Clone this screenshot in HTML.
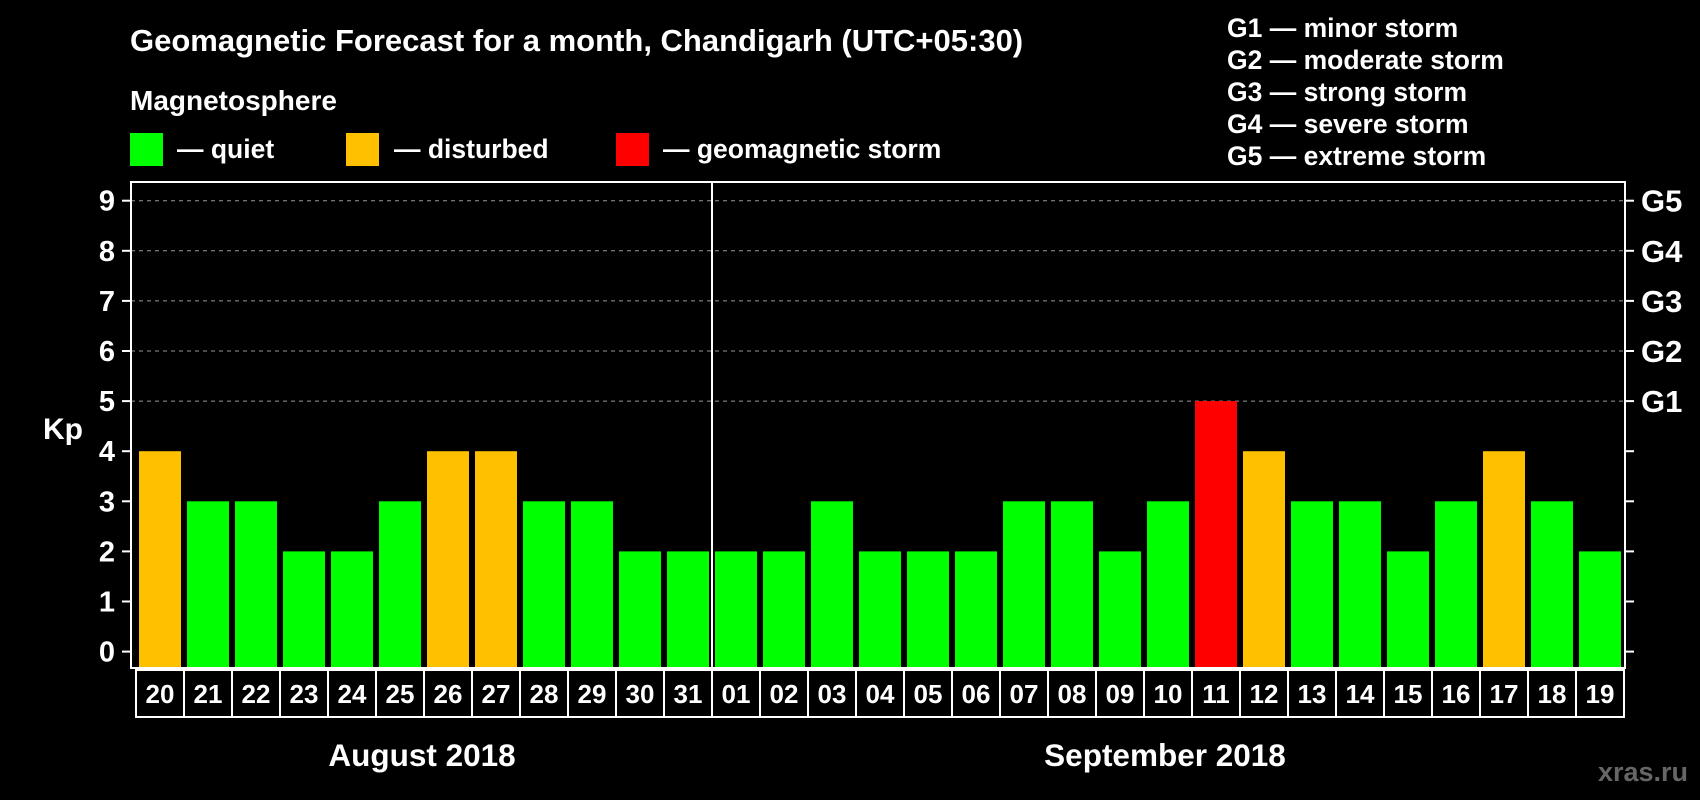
<!DOCTYPE html>
<html><head><meta charset="utf-8"><style>
body{margin:0;background:#000;width:1700px;height:800px;overflow:hidden}
svg{display:block;font-family:"Liberation Sans",Arial,sans-serif;font-weight:bold}
</style></head><body>
<svg id="chart" width="1700" height="800">
<text x="130" y="51" fill="#fff" font-size="31">Geomagnetic Forecast for a month, Chandigarh (UTC+05:30)</text>
<text x="130" y="110" fill="#fff" font-size="28">Magnetosphere</text>
<g><rect x="130" y="133" width="33" height="33" fill="#00ff00"/><text x="177" y="158" fill="#fff" font-size="26.5">— quiet</text></g>
<g><rect x="346" y="133" width="33" height="33" fill="#ffc000"/><text x="394" y="158" fill="#fff" font-size="26.5">— disturbed</text></g>
<g><rect x="616" y="133" width="33" height="33" fill="#ff0000"/><text x="663" y="158" fill="#fff" font-size="26.5">— geomagnetic storm</text></g>
<g fill="#fff" font-size="26.5">
<text x="1227" y="37">G1 — minor storm</text>
<text x="1227" y="69">G2 — moderate storm</text>
<text x="1227" y="101">G3 — strong storm</text>
<text x="1227" y="133">G4 — severe storm</text>
<text x="1227" y="165">G5 — extreme storm</text>
</g>
<text x="63" y="439" fill="#fff" font-size="30" text-anchor="middle">Kp</text>
<text x="422" y="766" fill="#fff" font-size="31.5" text-anchor="middle">August 2018</text>
<text x="1165" y="766" fill="#fff" font-size="31.5" text-anchor="middle">September 2018</text>
<text x="1643" y="781" fill="#666" font-size="27" text-anchor="middle">xras.ru</text>
<g id="plot"></g>
</svg>
<script>
const days=["20","21","22","23","24","25","26","27","28","29","30","31","01","02","03","04","05","06","07","08","09","10","11","12","13","14","15","16","17","18","19"];
const kpValues=[4,3,3,2,2,3,4,4,3,3,2,2,2,2,3,2,2,2,3,3,2,3,5,4,3,3,2,3,4,3,2];
const yTicks=[0,1,2,3,4,5,6,7,8,9];
const gLabels=["G1","G2","G3","G4","G5"];
const NS="http://www.w3.org/2000/svg";
const g=document.getElementById('plot');
const L=131,R=1625,T=182,B=668;
const y=v=>651.6-v*50.1;
const x=i=>139+i*48;
function mk(t,a){const e=document.createElementNS(NS,t);for(const k in a)e.setAttribute(k,a[k]);g.appendChild(e);return e;}
yTicks.forEach(v=>{
  if(v>=5){const l=mk('line',{x1:L,x2:R,y1:y(v),y2:y(v),stroke:'#999','stroke-dasharray':'4,4','stroke-width':1});
  
  }
  mk('line',{x1:122,x2:L,y1:y(v),y2:y(v),stroke:'#fff','stroke-width':2});
  mk('line',{x1:R,x2:R+9,y1:y(v),y2:y(v),stroke:'#fff','stroke-width':2});
  const t=mk('text',{x:107,y:y(v)+10,fill:'#fff','font-size':29,'text-anchor':'middle'});t.textContent=v;
  
  
});
gLabels.forEach((s,i)=>{const t=mk('text',{x:1641,y:y(5+i)+11,fill:'#fff','font-size':31});t.textContent=s;
  
  });
kpValues.forEach((v,i)=>{
  const c=v>=5?'#ff0000':v>=4?'#ffc000':'#00ff00';
  const r=mk('rect',{x:x(i),y:y(v),width:42,height:B-y(v),fill:c});
  
  
  const b=mk('rect',{x:x(i)-3,y:670,width:48,height:47,fill:'none',stroke:'#fff','stroke-width':2});
  
  
  const t=mk('text',{x:x(i)+21,y:703,fill:'#fff','font-size':26,'text-anchor':'middle'});t.textContent=days[i];
  
  
});
const f=mk('rect',{x:L,y:T,width:R-L,height:B-T,fill:'none',stroke:'#fff','stroke-width':2});


const d=mk('line',{x1:x(12)-3,x2:x(12)-3,y1:T,y2:B,stroke:'#fff','stroke-width':2});


</script>
</body></html>
